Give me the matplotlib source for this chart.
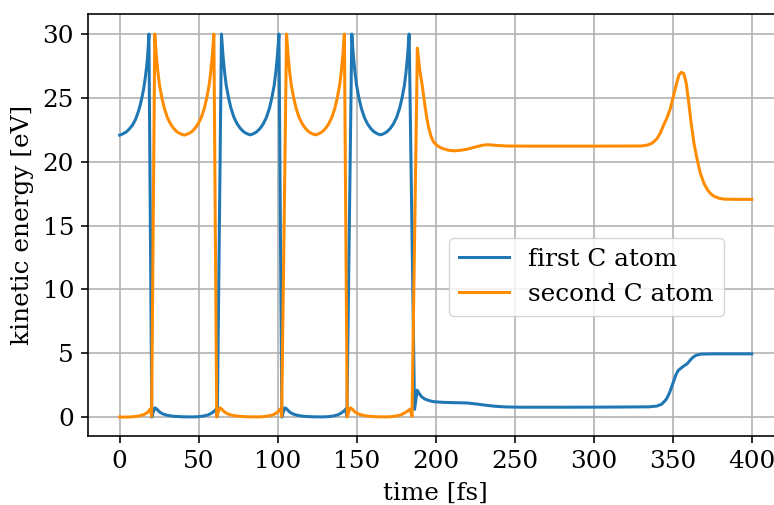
import matplotlib
matplotlib.use("Agg")
import matplotlib.pyplot as plt

# ---------------- data ----------------
t_first = [0, 2, 4, 6, 8, 10, 12, 13, 14, 15, 16, 17, 17.5, 18, 18.5,
           20.3, 21.0, 22.3, 23.5, 25, 27, 30, 34, 40, 46, 50, 53, 56, 58, 60, 61, 61.8,
           64.4, 64.9, 65.4, 66.4, 67.4, 68.9, 70.4, 72.4, 74.4, 76.4, 78.4, 80.4, 82.6,
           84.8, 86.8, 88.8, 90.8, 92.8, 94.8, 96.3, 97.8, 98.8, 99.8, 100.3, 100.8,
           102.6, 103.3, 104.6, 105.8, 107.3, 109.3, 112.3, 116.3, 122, 128, 132, 135, 138, 140, 142, 143, 143.8,
           146.9, 147.4, 147.9, 148.9, 149.9, 151.4, 152.9, 154.9, 156.9, 158.9, 160.9, 162.9, 165.05,
           167.2, 169.2, 171.2, 173.2, 175.2, 177.2, 178.7, 180.2, 181.2, 182.2, 182.7, 183.2,
           186.6, 188.3, 189.5, 191, 193, 196, 199, 205, 212, 220, 226, 232, 238, 245, 255, 280, 310, 335,
           340, 343, 346, 348, 350, 352, 353.5, 355, 357, 359, 361, 363, 365, 368, 375, 400]
e_first = [22.08, 22.18, 22.32, 22.55, 22.85, 23.3, 24.0, 24.45, 25.0, 25.6, 26.4, 27.4, 28.0, 28.9, 30.0,
           0.0, 0.3, 0.72, 0.62, 0.42, 0.26, 0.14, 0.06, 0.02, 0.01, 0.03, 0.08, 0.17, 0.3, 0.48, 0.62, 0.05,
           30.0, 29.1, 28.3, 27.0, 26.0, 25.0, 24.2, 23.45, 22.95, 22.6, 22.35, 22.2, 22.1,
           22.2, 22.35, 22.6, 22.95, 23.45, 24.2, 25.0, 26.0, 27.0, 28.3, 29.1, 30.0,
           0.0, 0.3, 0.72, 0.62, 0.42, 0.26, 0.14, 0.06, 0.02, 0.01, 0.03, 0.08, 0.17, 0.3, 0.48, 0.62, 0.05,
           30.0, 29.1, 28.3, 27.0, 26.0, 25.0, 24.2, 23.45, 22.95, 22.6, 22.35, 22.2, 22.1,
           22.2, 22.35, 22.6, 22.95, 23.45, 24.2, 25.0, 26.0, 27.0, 28.3, 29.1, 30.0,
           0.6, 2.1, 1.85, 1.6, 1.42, 1.28, 1.2, 1.15, 1.13, 1.1, 1.02, 0.92, 0.84, 0.79, 0.77, 0.77, 0.78, 0.8,
           0.86, 1.0, 1.4, 1.9, 2.6, 3.3, 3.65, 3.8, 4.0, 4.15, 4.45, 4.7, 4.85, 4.93, 4.95, 4.95]

t_second = [0, 5, 9, 12, 14, 16, 17.5, 18.5, 19.5, 20.2,
            22.2, 22.7, 23.2, 24.2, 25.2, 26.7, 28.2, 30.2, 32.2, 34.2, 36.2, 38.2, 40.9,
            43.6, 45.6, 47.6, 49.6, 51.6, 53.6, 55.1, 56.6, 57.6, 58.6, 59.1, 59.6,
            61.4, 62.1, 63.4, 64.6, 66.1, 68.1, 71.1, 75.1, 81, 87, 91, 94, 97, 99, 100.8, 101.8, 102.5,
            105.6, 106.1, 106.6, 107.6, 108.6, 110.1, 111.6, 113.6, 115.6, 117.6, 119.6, 121.6, 123.9,
            126.2, 128.2, 130.2, 132.2, 134.2, 136.2, 137.7, 139.2, 140.2, 141.2, 141.7, 142.2,
            144.0, 144.7, 146.0, 147.2, 148.7, 150.7, 153.7, 157.7, 163, 168, 172, 175, 178, 180, 182, 183.8, 185.0,
            188.4, 189, 190, 191.2, 192.3, 193.3, 194.4, 195.5, 197, 198.6, 201, 204, 208, 212, 216, 220, 225,
            230, 233, 238, 245, 260, 300, 330, 334, 337, 340, 342, 344, 346.6, 348.6, 350.6, 352.6, 354,
            355.5, 357, 358.5, 360, 361.5, 363.5, 365.6, 367.5, 369.8, 372, 374, 376, 379, 382.4, 390, 400]
e_second = [0.0, 0.0, 0.03, 0.08, 0.14, 0.24, 0.35, 0.5, 0.65, 0.05,
            30.0, 29.1, 28.3, 27.0, 26.0, 25.0, 24.2, 23.45, 22.95, 22.6, 22.35, 22.2, 22.08,
            22.2, 22.35, 22.6, 22.95, 23.45, 24.2, 25.0, 26.0, 27.0, 28.3, 29.1, 30.0,
            0.0, 0.3, 0.72, 0.62, 0.42, 0.26, 0.14, 0.06, 0.02, 0.01, 0.03, 0.08, 0.17, 0.3, 0.5, 0.65, 0.05,
            30.0, 29.1, 28.3, 27.0, 26.0, 25.0, 24.2, 23.45, 22.95, 22.6, 22.35, 22.2, 22.1,
            22.2, 22.35, 22.6, 22.95, 23.45, 24.2, 25.0, 26.0, 27.0, 28.3, 29.1, 30.0,
            0.0, 0.3, 0.72, 0.62, 0.42, 0.26, 0.14, 0.06, 0.02, 0.01, 0.03, 0.08, 0.17, 0.3, 0.45, 0.62, 0.05,
            28.9, 28.2, 27.1, 26.2, 25.2, 24.3, 23.4, 22.7, 22.0, 21.56, 21.25, 21.05, 20.9, 20.85, 20.9, 20.98, 21.15,
            21.3, 21.33, 21.28, 21.23, 21.22, 21.22, 21.23, 21.3, 21.45, 21.8, 22.2, 22.8, 23.5, 24.2, 25.2, 26.2, 26.8,
            27.0, 26.9, 26.2, 24.8, 23.2, 21.4, 20.1, 19.1, 18.3, 17.8, 17.5, 17.3, 17.15, 17.07, 17.05, 17.05]

labels = ["first C atom", "second C atom"]
x_ticks = [0, 50, 100, 150, 200, 250, 300, 350, 400]
y_ticks = [0, 5, 10, 15, 20, 25, 30]

# ---------------- styling ----------------
s = 1.45
fs = 17.8
plt.rcParams["font.family"] = ["DejaVu Serif"]
plt.rcParams["font.size"] = fs
plt.rcParams["axes.linewidth"] = 0.8 * s
plt.rcParams["xtick.major.width"] = 0.8 * s
plt.rcParams["ytick.major.width"] = 0.8 * s
plt.rcParams["xtick.major.size"] = 3.5 * s
plt.rcParams["ytick.major.size"] = 3.5 * s
plt.rcParams["xtick.major.pad"] = 3.5 * s
plt.rcParams["ytick.major.pad"] = 3.5 * s

fig = plt.figure(figsize=(7.74, 5.05), dpi=100)
ax = fig.add_axes([88.1 / 774, 68.8 / 505, (783.3 - 88.1) / 774, (436.2 - 13.6) / 505])

ax.plot(t_first, e_first, color="#1f77b4", lw=1.5 * s, label=labels[0])
ax.plot(t_second, e_second, color="#ff8c00", lw=1.5 * s, label=labels[1])

ax.set_xlim(-20, 420)
ax.set_ylim(-1.5, 31.6)
ax.set_xticks(x_ticks)
ax.set_yticks(y_ticks)
ax.grid(True, color="#b0b0b0", lw=0.8 * s)
ax.set_xlabel("time [fs]", labelpad=4 * s)
ax.set_ylabel("kinetic energy [eV]", labelpad=4 * s)

ax.legend(loc="center", bbox_to_anchor=(0.717, 0.377), fontsize=fs)

fig.savefig("out.png", dpi=100)
